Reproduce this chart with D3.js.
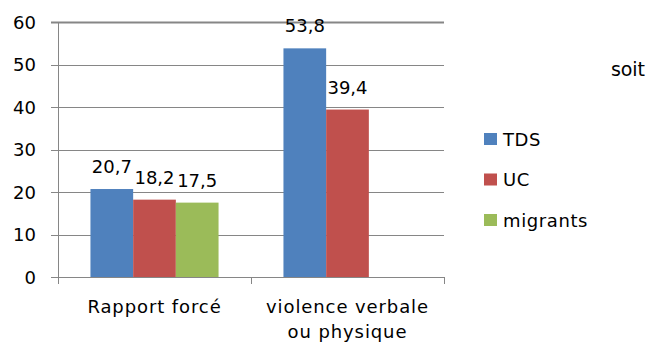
<!DOCTYPE html>
<html>
<head>
<meta charset="utf-8">
<script src="https://cdn.jsdelivr.net/npm/d3@7"></script>
<style>
  html, body { margin: 0; padding: 0; background: #fff; }
  svg { display: block; }
  text { font-family: "DejaVu Sans", Verdana, sans-serif; fill: #000; }
</style>
</head>
<body>
<svg id="chart" width="648" height="342"></svg>
<script>
// Categories (each may span several lines)
const categories = ["Rapport forcé", "violence verbale|ou physique"];
const series = ["TDS", "UC", "migrants"];
const colors = ["#4F81BD", "#C0504D", "#9BBB59"];
// Values per series, one entry per category (null = no bar)
const tdsValues = [20.7, 53.8];
const ucValues = [18.2, 39.4];
const migrantsValues = [17.5, null];
const yTicks = [0, 10, 20, 30, 40, 50, 60];

const values = [tdsValues, ucValues, migrantsValues];
const fmt = v => String(v).replace(".", ",");

const svg = d3.select("#chart");
const m = { left: 58, right: 444, top: 22, bottom: 277 };

const y = d3.scaleLinear().domain([0, 60]).range([m.bottom, m.top]);
const x0 = d3.scaleBand().domain(categories).range([m.left, m.right]).padding(0);
const x1 = d3.scaleBand().domain(series).range([0, x0.bandwidth()])
  .paddingInner(0).paddingOuter(0.76);

// Horizontal gridlines with left tick marks
svg.append("g").selectAll("line").data(yTicks.filter(t => t > 0)).join("line")
  .attr("x1", m.left - 7).attr("x2", m.right)
  .attr("y1", d => Math.round(y(d)) + 0.5).attr("y2", d => Math.round(y(d)) + 0.5)
  .attr("stroke", "#868686").attr("stroke-width", d => d === 60 ? 2 : 1);

// Y tick labels
svg.append("g").selectAll("text").data(yTicks).join("text")
  .attr("x", 36).attr("y", d => y(d) + 6.5)
  .attr("text-anchor", "end").attr("font-size", 18)
  .text(d => d);

// Bars
series.forEach((s, si) => {
  svg.append("g").selectAll("rect")
    .data(categories.map((c, ci) => ({ c, v: values[si][ci] })).filter(d => d.v != null))
    .join("rect")
    .attr("x", d => x0(d.c) + x1(s))
    .attr("y", d => y(d.v))
    .attr("width", x1.bandwidth())
    .attr("height", d => y(0) - y(d.v))
    .attr("fill", colors[si]);

  svg.append("g").selectAll("text")
    .data(categories.map((c, ci) => ({ c, v: values[si][ci] })).filter(d => d.v != null))
    .join("text")
    .attr("x", d => x0(d.c) + x1(s) + x1.bandwidth() / 2)
    .attr("y", d => y(d.v) - 16)
    .attr("text-anchor", "middle").attr("font-size", 18)
    .text(d => fmt(d.v));
});

// Y axis line and baseline
svg.append("line").attr("x1", m.left + 0.5).attr("x2", m.left + 0.5)
  .attr("y1", m.top).attr("y2", m.bottom + 7).attr("stroke", "#868686");
svg.append("line").attr("x1", m.left - 7).attr("x2", m.right)
  .attr("y1", m.bottom + 0.5).attr("y2", m.bottom + 0.5).attr("stroke", "#868686");

// Category boundary ticks below the baseline
const bounds = categories.map(c => x0(c) + x0.bandwidth());
svg.append("g").selectAll("line").data(bounds).join("line")
  .attr("x1", d => Math.round(d) + 0.5).attr("x2", d => Math.round(d) + 0.5)
  .attr("y1", m.bottom).attr("y2", m.bottom + 7).attr("stroke", "#868686");

// Category labels
categories.forEach(c => {
  const lines = c.split("|");
  const t = svg.append("text")
    .attr("x", x0(c) + x0.bandwidth() / 2)
    .attr("text-anchor", "middle").attr("font-size", 18)
    .attr("letter-spacing", 0.9);
  lines.forEach((l, i) => {
    t.append("tspan").attr("x", x0(c) + x0.bandwidth() / 2)
      .attr("y", 313 + i * 24.5).text(l);
  });
});

// Legend
const legend = svg.append("g").selectAll("g").data(series).join("g")
  .attr("transform", (d, i) => `translate(484, ${133 + i * 40.5})`);
legend.append("rect").attr("width", 13).attr("height", 12)
  .attr("fill", (d, i) => colors[i]);
legend.append("text").attr("x", 19).attr("y", 12.5)
  .attr("font-size", 18).attr("letter-spacing", 0.6).text(d => d);

// Side note
svg.append("text").attr("x", 611).attr("y", 76)
  .attr("font-family", "'Liberation Sans', Arial, sans-serif")
  .attr("font-size", 19).attr("textLength", 34).attr("lengthAdjust", "spacing")
  .text("soit");
</script>
</body>
</html>
